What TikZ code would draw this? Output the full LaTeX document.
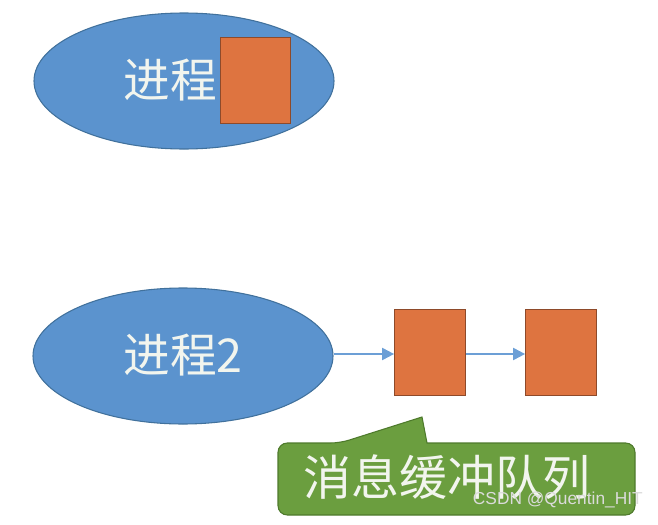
\documentclass[tikz,border=0pt]{standalone}
\usepackage{fontspec}
\newfontfamily\cjk{Noto Sans CJK SC}
\newfontfamily\wmark{Liberation Sans}
\usetikzlibrary{arrows.meta,shapes.geometric}
\definecolor{procblue}{HTML}{5B93CE}
\definecolor{procedge}{HTML}{41719C}
\definecolor{buforange}{HTML}{DE7440}
\definecolor{bufedge}{HTML}{8E4A2A}
\definecolor{linkblue}{HTML}{6C9FD6}
\definecolor{msggreen}{HTML}{6B9E3F}
\definecolor{msgedge}{HTML}{4E7A2C}
\definecolor{labelink}{HTML}{F2F5EE}

\begin{document}
\begin{tikzpicture}[x=.75pt,y=-.75pt,
    proc/.style={ellipse,fill=procblue,draw=procedge,line width=.8pt,
      minimum width=225pt,minimum height=102pt,inner sep=0pt},
    buf/.style={rectangle,fill=buforange,draw=bufedge,line width=.8pt,
      minimum width=53pt,minimum height=65pt,inner sep=0pt},
    link/.style={linkblue,line width=1.5pt,-{Triangle[length=9pt,width=9pt]}},
    bigtext/.style={text=labelink,font=\cjk\fontsize{35}{38}\selectfont}]
    \useasboundingbox (0,0) rectangle (658,525);
    % first process, buffer sits inside
    \node[proc] (procA) at (184,81) {};
    \node[bigtext] (procAlbl) at (170,80) {进程};
    \node[buf] (bufZero) at (255.5,80.5) {};
    % second process and the queue
    \node[proc] (procB) at (183,356) {};
    \node[bigtext] (procBlbl) at (183,355) {进程2};
    \node[buf] (bufA) at (430,352.5) {};
    \node[buf] (bufB) at (561,352.5) {};
    \draw[link] (procB.east |- 0,354) -- (bufA.west |- 0,354);
    \draw[link] (bufA.east |- 0,354) -- (bufB.west |- 0,354);
    % callout
    \draw[fill=msggreen,draw=msgedge,line width=.8pt]
      (427,443) [rounded corners=7pt] -- (635,443) -- (635,515)
      -- (278,515) -- (278,443) -- (340,443) [sharp corners]
      -- (422,417) -- cycle;
    \node[text=labelink,inner sep=0pt,font=\cjk\fontsize{36}{40}\selectfont]
      (msgq) at (447,477) {消息缓冲队列};
    \node[anchor=south east,text=black!14,inner sep=0pt,
      font=\wmark\fontsize{13}{14}\selectfont] (credit) at (643,508)
      {CSDN @Quentin\_HIT};
  \end{tikzpicture}
\end{document}
